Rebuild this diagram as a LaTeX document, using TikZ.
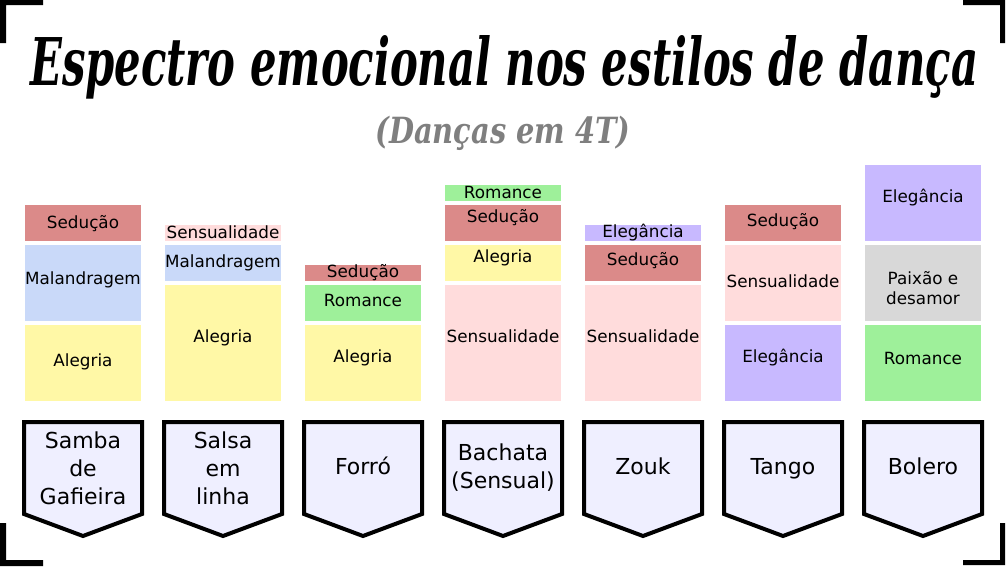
\documentclass[tikz,border=0pt]{standalone}
\usepackage{fontspec}
\setmainfont{DejaVu Sans}
\newfontfamily\titlefont[FakeStretch=0.8]{DejaVu Serif}
\definecolor{csed}{HTML}{DB8A89}
\definecolor{cmal}{HTML}{C9D9F9}
\definecolor{cale}{HTML}{FFF8A6}
\definecolor{csen}{HTML}{FFDCDC}
\definecolor{crom}{HTML}{9EF09A}
\definecolor{cele}{HTML}{C8B9FF}
\definecolor{cpai}{HTML}{D8D8D8}
\definecolor{cpent}{HTML}{EFEFFF}
\definecolor{csub}{HTML}{7F7F7F}
\tikzset{
  blk/.style={inner sep=0pt, minimum width=116pt, draw=none},
  lbl/.style={inner sep=0pt, font=\fontsize{16.8}{20}\selectfont, text height=12pt, text depth=4pt, align=center},
  pent/.style={draw=black, line width=4pt, fill=cpent, line join=miter},
  plbl/.style={inner sep=0pt, font=\fontsize{22}{28}\selectfont, align=center},
  plbone/.style={plbl, text height=16pt, text depth=5pt},
  corner/.style={fill=black, draw=none}
}
% \myblk{name}{cx}{ytop}{ybot}{color}
\newcommand{\myblk}[5]{\node[blk, fill=#5, minimum height={#4-#3}] (#1) at (#2,{(#3+#4)/2}) {};}
\newcommand{\mypent}[1]{\draw[pent] (#1-59,422) -- (#1+59,422) -- (#1+59,514) -- (#1,536) -- (#1-59,514) -- cycle;}
\begin{document}
\begin{tikzpicture}[x=1pt,y=-1pt]
\useasboundingbox (0,0) rectangle (1006,566);
% corners
\fill[corner] (0,0) -- (43,0) -- (43,5) -- (6,5) -- (6,43) -- (0,43) -- cycle;
\fill[corner] (963,0) -- (1005,0) -- (1005,43) -- (1000,43) -- (1000,5) -- (963,5) -- cycle;
\fill[corner] (0,523) -- (6,523) -- (6,560) -- (43,560) -- (43,566) -- (0,566) -- cycle;
\fill[corner] (1000,523) -- (1005,523) -- (1005,565) -- (963,565) -- (963,560) -- (1000,560) -- cycle;
% title
\node[anchor=base west, inner sep=0pt] (title) at (30,85) {\resizebox{948pt}{50pt}{\titlefont\bfseries\itshape Espectro emocional nos estilos de dança}};
\node[anchor=base, inner sep=0pt, text=csub] (sub) at (503,143) {\resizebox{255pt}{!}{\titlefont\bfseries\itshape (Danças em 4T)}};
% column 1
\myblk{a1}{83}{205}{241}{csed} \node[lbl] (ta1) at (83,224) {Sedução};
\myblk{a2}{83}{245}{321}{cmal} \node[lbl] (ta2) at (83,280) {Malandragem};
\myblk{a3}{83}{325}{401}{cale} \node[lbl] (ta3) at (83,362) {Alegria};
% column 2
\myblk{b1}{223}{225}{241}{csen} \node[lbl] (tb1) at (223,234) {Sensualidade};
\myblk{b2}{223}{245}{281}{cmal} \node[lbl] (tb2) at (223,263) {Malandragem};
\myblk{b3}{223}{285}{401}{cale} \node[lbl] (tb3) at (223,338) {Alegria};
% column 3
\myblk{c1}{363}{265}{281}{csed} \node[lbl] (tc1) at (363,273) {Sedução};
\myblk{c2}{363}{285}{321}{crom} \node[lbl] (tc2) at (363,302) {Romance};
\myblk{c3}{363}{325}{401}{cale} \node[lbl] (tc3) at (363,358) {Alegria};
% column 4
\myblk{d1}{503}{185}{201}{crom} \node[lbl] (td1) at (503,194) {Romance};
\myblk{d2}{503}{205}{241}{csed} \node[lbl] (td2) at (503,218) {Sedução};
\myblk{d3}{503}{245}{281}{cale} \node[lbl] (td3) at (503,258) {Alegria};
\myblk{d4}{503}{285}{401}{csen} \node[lbl] (td4) at (503,338) {Sensualidade};
% column 5
\myblk{e1}{643}{225}{241}{cele} \node[lbl] (te1) at (643,233) {Elegância};
\myblk{e2}{643}{245}{281}{csed} \node[lbl] (te2) at (643,261) {Sedução};
\myblk{e3}{643}{285}{401}{csen} \node[lbl] (te3) at (643,338) {Sensualidade};
% column 6
\myblk{f1}{783}{205}{241}{csed} \node[lbl] (tf1) at (783,222) {Sedução};
\myblk{f2}{783}{245}{321}{csen} \node[lbl] (tf2) at (783,283) {Sensualidade};
\myblk{f3}{783}{325}{401}{cele} \node[lbl] (tf3) at (783,358) {Elegância};
% column 7
\myblk{g1}{923}{165}{241}{cele} \node[lbl] (tg1) at (923,198) {Elegância};
\myblk{g2}{923}{245}{321}{cpai} \node[inner sep=0pt, font=\fontsize{16.8}{20}\selectfont, align=center] (tg2) at (923,288) {Paixão e\\desamor};
\myblk{g3}{923}{325}{401}{crom} \node[lbl] (tg3) at (923,360) {Romance};
% pentagons
\mypent{83}  \node[plbl] (p1) at (83,468) {Samba\\de\\Gafieira};
\mypent{223} \node[plbl] (p2) at (223,468) {Salsa\\em\\linha};
\mypent{363} \node[plbone] (p3) at (363,468.5) {Forró};
\mypent{503} \node[plbl] (p4) at (503,468) {Bachata\\(Sensual)};
\mypent{643} \node[plbone] (p5) at (643,468.5) {Zouk};
\mypent{783} \node[plbone] (p6) at (783,468.5) {Tango};
\mypent{923} \node[plbone] (p7) at (923,468.5) {Bolero};
\end{tikzpicture}
\end{document}
